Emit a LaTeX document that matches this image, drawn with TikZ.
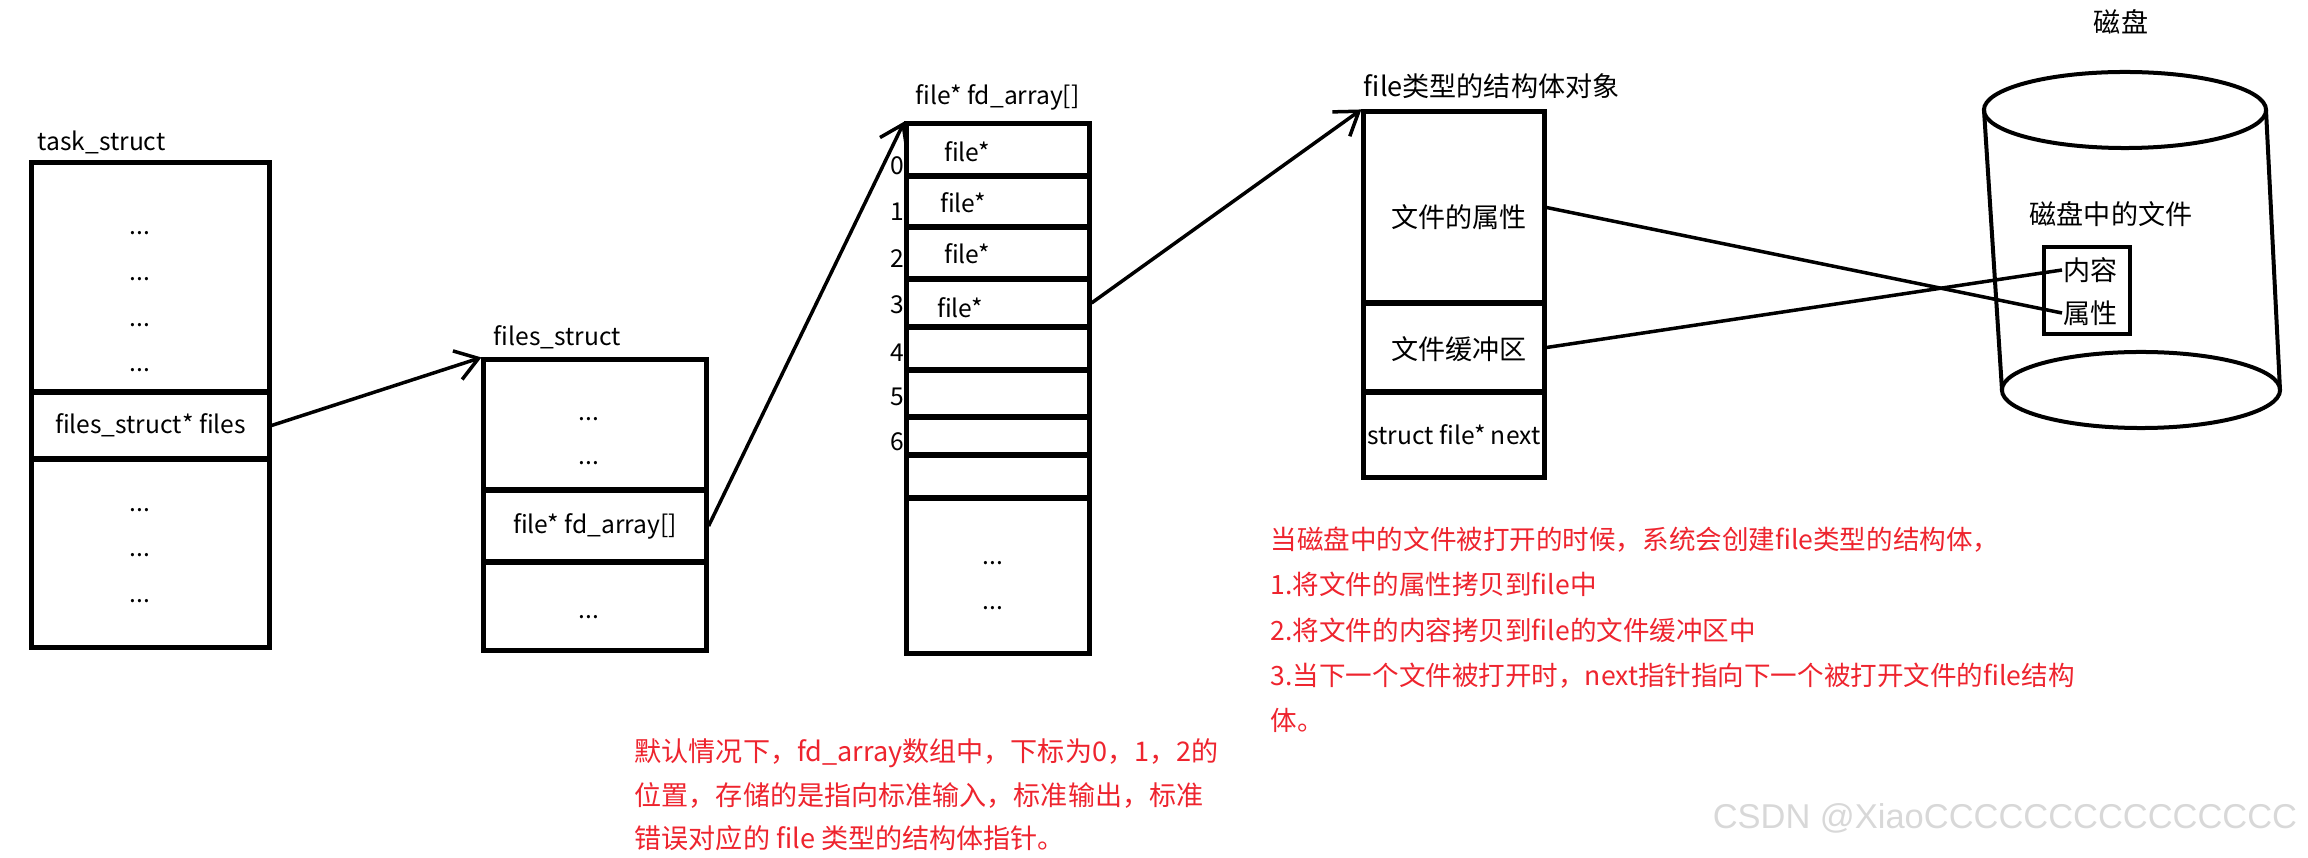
\documentclass[tikz,border=0pt]{standalone}
\usepackage{fontspec}
\setmainfont{Noto Sans CJK SC}
\newfontfamily\markfont{Liberation Sans}
\usetikzlibrary{arrows.meta}
\definecolor{notered}{RGB}{238,36,46}
\definecolor{markgray}{RGB}{216,216,216}

\begin{document}
\begin{tikzpicture}[x=0.01cm,y=-0.01cm,>={Straight Barb[length=0.22cm,width=0.3cm]},line width=0.035cm]
  \tikzstyle{cell}=[draw, line width=0.05cm, inner sep=0pt, font=\fontsize{7.0}{9}\selectfont]
  \tikzstyle{txt}=[inner sep=0pt, font=\fontsize{7.0}{9}\selectfont]
  \tikzstyle{cjk}=[inner sep=0pt, font=\fontsize{7.7}{9}\selectfont]
  \tikzstyle{note}=[inner sep=0pt, align=left, anchor=north west, text=notered]
  \useasboundingbox (0,0) rectangle (2308,858);

  % task_struct
  \node[txt, anchor=west] (taskLbl) at (36,142) {task\_struct};
  \node[cell, minimum width=2.37cm, minimum height=2.29cm] (taskTop) at (150.5,277.5) {};
  \node[cell, minimum width=2.37cm, minimum height=0.67cm] (taskFiles) at (150.5,425.5) {files\_struct* files};
  \node[cell, minimum width=2.37cm, minimum height=1.88cm] (taskBot) at (150.5,553) {};
  \foreach \y [count=\i] in {233,279,325,370,510,555,601}
    \node[txt] (taskDots\i) at (140,\y) {...};

  % files_struct
  \node[txt, anchor=west] (filesLbl) at (492,337) {files\_struct};
  \node[cell, minimum width=2.22cm, minimum height=1.30cm] (filesTop) at (595,425) {};
  \node[cell, minimum width=2.22cm, minimum height=0.72cm] (filesArr) at (595,526) {file* fd\_array[]};
  \node[cell, minimum width=2.22cm, minimum height=0.88cm] (filesBot) at (595,606) {};
  \foreach \y [count=\i] in {419,463,617}
    \node[txt] (filesDots\i) at (589,\y) {...};

  % fd_array
  \node[txt, anchor=west] (fdLbl) at (914,97) {file* fd\_array[]};
  \foreach \ya/\yb [count=\i from 0, evaluate=\ya as \rowy using (\ya+\yb)/2,
      evaluate=\ya as \rowh using (\yb-\ya)/100] in
      {124/176, 176/227, 227/279, 279/327, 327/370, 370/417, 417/455, 455/498, 498/653}
    \node[cell, minimum width=1.82cm, minimum height=\rowh cm] (fd\i) at (998,\rowy) {};
  \foreach \i/\x/\y in {0/967/152, 1/963/203, 2/967/254, 3/960/308}
    \node[txt] (fdTxt\i) at (\x,\y) {file*};
  \foreach \y [count=\i from 0] in {166,212,259,305,353,397,442}
    \node[txt, anchor=east] (idx\i) at (906,\y) {\i};
  \foreach \y [count=\i] in {563,608}
    \node[txt] (fdDots\i) at (993,\y) {...};

  % file object
  \node[cjk, anchor=west] (objLbl) at (1362,86) {file类型的结构体对象};
  \node[cell, minimum width=1.80cm, minimum height=1.91cm] (objAttr) at (1454,207.5) {};
  \node[cell, minimum width=1.80cm, minimum height=0.89cm] (objBuf) at (1454,347.5) {};
  \node[cell, minimum width=1.80cm, minimum height=0.85cm] (objNext) at (1454,434.5) {struct file* next};
  \node[cjk] (objAttrTxt) at (1459,217) {文件的属性};
  \node[cjk] (objBufTxt) at (1459,349) {文件缓冲区};

  % disk
  \node[cjk] (diskLbl) at (2121,22) {磁盘};
  \draw[line width=0.04cm] (2125,110) ellipse [x radius=1.41cm, y radius=0.38cm];
  \draw[line width=0.04cm] (2141,390) ellipse [x radius=1.39cm, y radius=0.38cm];
  \draw[line width=0.04cm] (1984,110) -- (2002,390);
  \draw[line width=0.04cm] (2266,110) -- (2280,390);
  \node[cjk] (diskFile) at (2111,214) {磁盘中的文件};
  \node[draw, line width=0.04cm, minimum width=0.86cm, minimum height=0.87cm, inner sep=0pt] (diskBox) at (2087,290.5) {};
  \node[cjk, anchor=west] (diskCont) at (2062,270) {内容};
  \node[cjk, anchor=west] (diskAttr) at (2062,313) {属性};

  % pointers
  \draw[->] (taskFiles.east) -- (filesTop.north west);
  \draw[->] (filesArr.east) -- (fd0.north west);
  \draw[->] (fd3.east) -- (objAttr.north west);
  \draw (objAttr.east) -- (diskAttr.west);
  \draw (objBuf.east) -- (diskCont.west);

  % notes
  \node[note, font=\fontsize{7.7}{12.4}\selectfont] (noteFd) at (633,737)
    {默认情况下，fd\_array数组中，下标为0，1，2的\\位置，存储的是指向标准输入，标准输出，标准\\错误对应的 file 类型的结构体指针。};
  \node[note, font=\fontsize{7.55}{12.9}\selectfont] (noteOpen) at (1269,525)
    {当磁盘中的文件被打开的时候，系统会创建file类型的结构体，\\1.将文件的属性拷贝到file中\\2.将文件的内容拷贝到file的文件缓冲区中\\3.当下一个文件被打开时，next指针指向下一个被打开文件的file结构\\体。};

  \node[anchor=east, inner sep=0pt, text=markgray, font=\markfont\fontsize{9.8}{11}\selectfont] (mark) at (2299,818) {CSDN @XiaoCCCCCCCCCCCCCCC};
\end{tikzpicture}
\end{document}
